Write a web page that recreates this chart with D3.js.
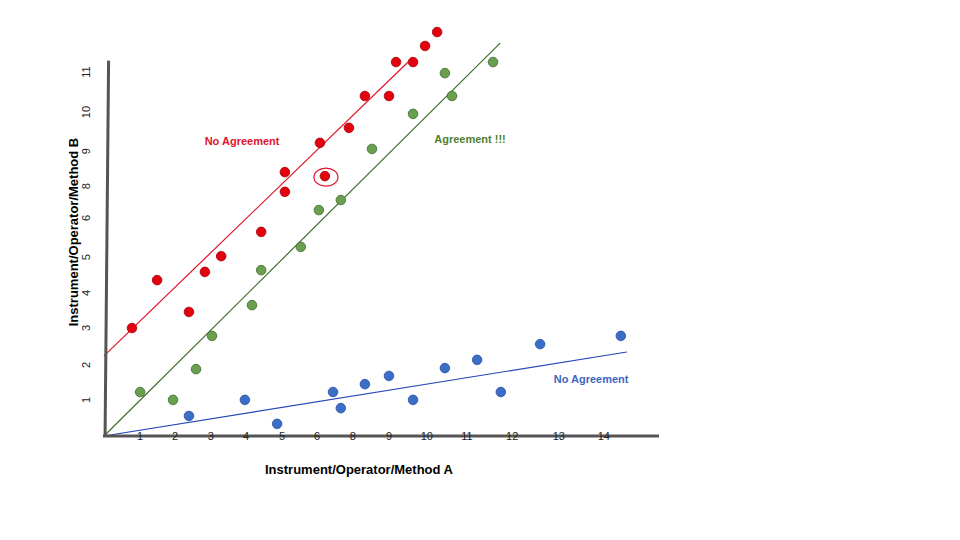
<!DOCTYPE html>
<html><head><meta charset="utf-8">
<script src="https://cdn.jsdelivr.net/npm/d3@7"></script>
<style>body{margin:0;background:#fff}svg{display:block}text{font-family:Arial,"Liberation Sans",sans-serif}</style>
</head><body><svg id="c" width="960" height="540"></svg>
<script>
// Data (units of Method A / Method B as drawn)
const redPoints = [[0.79,3.02],[1.50,4.36],[2.40,3.47],[2.85,4.59],[3.31,5.03],[4.44,5.71],[5.11,7.38],[5.11,6.83],[6.10,8.20],[6.24,7.27],[6.92,8.62],[7.37,9.51],[8.05,9.51],[8.25,10.46],[8.73,10.46],[9.07,10.91],[9.41,11.30]];
const greenPoints = [[1.02,1.23],[1.95,1.01],[2.60,1.87],[3.05,2.80],[4.18,3.66],[4.44,4.64],[5.56,5.29],[6.07,6.32],[6.69,6.60],[7.57,8.03],[8.73,9.01],[9.63,10.15],[9.83,9.51],[10.99,10.46]];
const bluePoints = [[2.40,0.56],[3.98,1.01],[4.89,0.34],[6.47,1.23],[6.69,0.78],[7.37,1.45],[8.05,1.68],[8.73,1.01],[9.63,1.90],[10.54,2.13],[11.21,1.23],[12.32,2.57],[14.60,2.80]];
const redLine = [[0,2.24],[8.59,10.46]];
const greenLine = [[0,0],[11.19,10.99]];
const blueLine = [[0,0],[14.77,2.35]];
const circledPoint = [6.27,7.24];
const xTickPos = [1.02,2.01,3.02,4.01,5.03,6.02,7.03,8.05,9.12,10.25,11.53,12.85,14.12];
const xTickLabels = ["1","2","3","4","5","6","8","9","10","11","12","13","14"];
const yTickPos = [1.01,1.99,3.02,4.0,5.0,6.1,6.99,7.97,9.06,10.18];
const yTickLabels = ["1","2","3","4","5","6","8","9","10","11"];
const annotations = [
  {text:"No Agreement", x:3.9, y:8.14, color:"#e3132b"},
  {text:"Agreement !!!", x:10.34, y:8.2, color:"#4e7f33"},
  {text:"No Agreement", x:13.76, y:1.48, color:"#3d68c0"}
];

const svg = d3.select("#c");
const x = d3.scaleLinear().domain([0,15]).range([104, 104+15*35.4]);
const y = d3.scaleLinear().domain([0,11]).range([436, 436-11*35.75]);

// trend lines
const line = d3.line().x(d=>x(d[0])).y(d=>y(d[1]));
svg.append("path").attr("d",line(redLine)).attr("stroke","#e0142a").attr("stroke-width",1.2).attr("fill","none");
svg.append("path").attr("d",line(greenLine)).attr("stroke","#3f6e2a").attr("stroke-width",1.2).attr("fill","none");
svg.append("path").attr("d",line(blueLine)).attr("stroke","#2747b8").attr("stroke-width",1.2).attr("fill","none");

// axes
svg.append("line").attr("x1",x(0.13)).attr("y1",y(10.5)).attr("x2",x(0.03)).attr("y2",y(0)).attr("stroke","#555").attr("stroke-width",3);
svg.append("line").attr("x1",x(0)-1).attr("y1",y(0)).attr("x2",659).attr("y2",y(0)).attr("stroke","#555").attr("stroke-width",3);

// tick labels
svg.selectAll(".xt").data(xTickPos).join("text").attr("class","xt")
  .attr("x",d=>x(d)).attr("y",y(0)+4).attr("text-anchor","middle")
  .attr("font-size",11).attr("fill","#222").text((d,i)=>xTickLabels[i]);
svg.selectAll(".yt").data(yTickPos).join("text").attr("class","yt")
  .attr("transform",d=>`translate(90,${y(d)}) rotate(-90)`).attr("text-anchor","middle")
  .attr("font-size",11).attr("fill","#222").text((d,i)=>yTickLabels[i]);

// points
function dots(data, fill, stroke){
  svg.append("g").selectAll("circle").data(data).join("circle")
    .attr("cx",d=>x(d[0])).attr("cy",d=>y(d[1])).attr("r",4.8)
    .attr("fill",fill).attr("stroke",stroke).attr("stroke-width",0.8);
}
dots(greenPoints,"#6a9f4f","#3d6b2a");
dots(bluePoints,"#3a6fc9","#2a4f9a");
dots(redPoints,"#e3000f","#a30000");

svg.append("ellipse").attr("cx",x(circledPoint[0])).attr("cy",y(circledPoint[1]))
  .attr("rx",12).attr("ry",9).attr("fill","none").attr("stroke","#e0142a").attr("stroke-width",1.2);

// annotations
svg.selectAll(".ann").data(annotations).join("text").attr("class","ann")
  .attr("x",d=>x(d.x)).attr("y",d=>y(d.y)).attr("text-anchor","middle")
  .attr("font-size",11).attr("font-weight","bold").attr("fill",d=>d.color).text(d=>d.text);

// axis titles
svg.append("text").attr("x",359).attr("y",474).attr("text-anchor","middle")
  .attr("font-size",13).attr("font-weight","bold").attr("fill","#000").text("Instrument/Operator/Method A");
svg.append("text").attr("transform","translate(78,232) rotate(-90)").attr("text-anchor","middle")
  .attr("font-size",13).attr("font-weight","bold").attr("fill","#000").text("Instrument/Operator/Method B");
</script></body></html>
